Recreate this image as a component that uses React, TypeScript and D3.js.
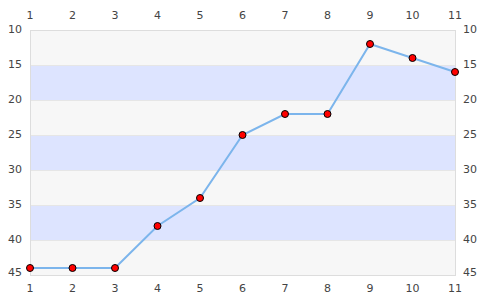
import React from "react";
import * as d3 from "d3";

const xValues = [1, 2, 3, 4, 5, 6, 7, 8, 9, 10, 11];
const yValues = [44, 44, 44, 38, 34, 25, 22, 22, 12, 14, 16];
const yTicks = [10, 15, 20, 25, 30, 35, 40, 45];

export default function App() {
  const W = 485, H = 300;
  const L = 30, R = 455, T = 30, B = 275;
  const x = d3.scaleLinear().domain([1, 11]).range([L, R]);
  const y = d3.scaleLinear().domain([10, 45]).range([T, B]);
  const line = d3.line<number>().x((_, i) => x(xValues[i])).y((d) => y(d));
  const bands = d3.range(yTicks.length - 1).map((i) => [yTicks[i], yTicks[i + 1]]);
  const font = "DejaVu Sans, sans-serif";
  return (
    <svg width={W} height={H} style={{ position: "absolute", left: 0, top: 0 }}>
      <rect x={0} y={0} width={W} height={H} fill="#fff" />
      {bands.map(([a, b], i) => (
        <rect key={i} x={L} y={y(a)} width={R - L} height={y(b) - y(a)} fill={i % 2 === 0 ? "#f7f7f7" : "#dde4ff"} />
      ))}
      {yTicks.slice(1, -1).map((t) => (
        <line key={t} x1={L} x2={R} y1={y(t) + 0.5} y2={y(t) + 0.5} stroke="#e6e6e6" strokeWidth={1} />
      ))}
      <rect x={L + 0.5} y={T + 0.5} width={R - L} height={B - T} fill="none" stroke="#dddddd" />
      <path d={line(yValues) || ""} fill="none" stroke="#7cb5ec" strokeWidth={2} />
      {yValues.map((v, i) => (
        <circle key={i} cx={x(xValues[i])} cy={y(v)} r={3.5} fill="#ff0000" stroke="#000" strokeWidth={1} />
      ))}
      {xValues.map((v) => (
        <g key={v} fontFamily={font} fontSize={11} fill="#444" textAnchor="middle">
          <text x={x(v)} y={19}>{v}</text>
          <text x={x(v)} y={292}>{v}</text>
        </g>
      ))}
      {yTicks.map((t) => (
        <g key={t} fontFamily={font} fontSize={11} fill="#444">
          <text x={22} y={Math.min(y(t), B - 2) + 3} textAnchor="end">{t}</text>
          <text x={463} y={Math.min(y(t), B - 2) + 3} textAnchor="start">{t}</text>
        </g>
      ))}
    </svg>
  );
}
